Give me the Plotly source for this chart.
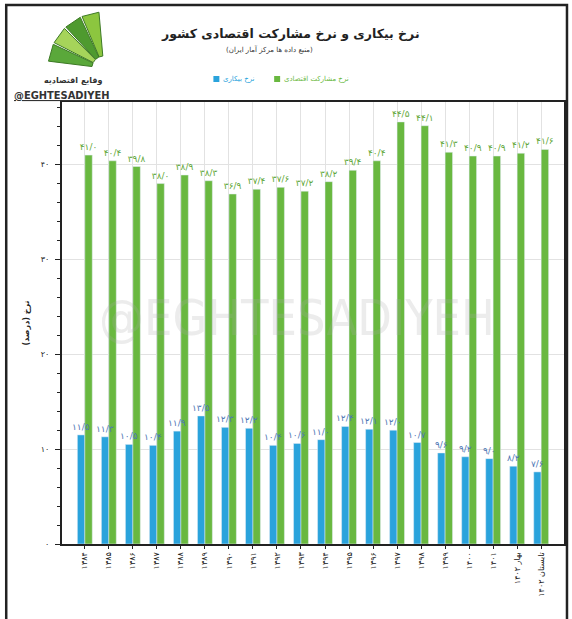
import math
import plotly.graph_objects as go

categories = ["۱۳۸۴", "۱۳۸۵", "۱۳۸۶", "۱۳۸۷", "۱۳۸۸", "۱۳۸۹", "۱۳۹۰", "۱۳۹۱", "۱۳۹۲", "۱۳۹۳",
              "۱۳۹۴", "۱۳۹۵", "۱۳۹۶", "۱۳۹۷", "۱۳۹۸", "۱۳۹۹", "۱۴۰۰", "۱۴۰۱", "بهار ۱۴۰۲", "تابستان ۱۴۰۲"]
unemployment = [11.5, 11.3, 10.5, 10.4, 11.9, 13.5, 12.3, 12.2, 10.4, 10.6,
                11.0, 12.4, 12.1, 12.0, 10.7, 9.6, 9.2, 9.0, 8.2, 7.6]
participation = [41.0, 40.4, 39.8, 38.0, 38.9, 38.3, 36.9, 37.4, 37.6, 37.2,
                 38.2, 39.4, 40.4, 44.5, 44.1, 41.3, 40.9, 40.9, 41.2, 41.6]
y_ticks = [0, 10, 20, 30, 40]
y_tick_labels = ["۰", "۱۰", "۲۰", "۳۰", "۴۰"]

title_text = "نرخ بیکاری و نرخ مشارکت اقتصادی کشور"
subtitle_text = "(منبع داده ها مرکز آمار ایران)"
name_unemp = "نرخ بیکاری"
name_part = "نرخ مشارکت اقتصادی"
y_title = "نرخ (درصد)"

FA = str.maketrans("0123456789.", "۰۱۲۳۴۵۶۷۸۹/")


def fa(v):
    return f"{v:.1f}".translate(FA)


GREEN = "#69b840"
BLUE = "#2aa3dc"
FONT = "DejaVu Sans"
COND = "DejaVu Sans Condensed, Liberation Sans Narrow, Liberation Sans, sans-serif"

W, H = 572, 619
L, R, T, B = 62, 566, 102, 544
X_RANGE = [-0.95, 19.95]
BARGAP = 0.38


def px(x):
    return (x - L) / (R - L)


def py(y):
    return (B - y) / (B - T)


fig = go.Figure()
fig.add_trace(go.Bar(
    x=categories, y=unemployment, name=name_unemp, marker_color=BLUE,
    showlegend=False))
fig.add_trace(go.Bar(
    x=categories, y=participation, name=name_part, marker_color=GREEN,
    text=[fa(v) for v in participation], textposition="outside",
    textfont=dict(size=9, color="#5fa83a", family=FONT), cliponaxis=False,
    constraintext="none", showlegend=False))

shapes = []
ann = []

# blue value labels drawn on top of everything, centred over the blue bars
cat_px = (R - L) / (X_RANGE[1] - X_RANGE[0])
blue_shift = -(1 - BARGAP) * cat_px / 4
for c, v in zip(categories, unemployment):
    ann.append(dict(text=fa(v), x=c, y=v, xref="x", yref="y", showarrow=False,
                    xanchor="center", yanchor="bottom", xshift=blue_shift, yshift=1,
                    font=dict(size=9, color="#4f78b5", family=FONT)))

# outer frame
shapes.append(dict(type="rect", xref="paper", yref="paper", x0=px(6), x1=px(569), y0=py(640), y1=py(5),
                   line=dict(color="#222", width=2.5), fillcolor="rgba(0,0,0,0)", layer="below"))

# logo (approximate fan)
cx, cy = 104, 68
fan_cols = ["#8cc63f", "#4e9a2f", "#a6d45a", "#5aa83a"]
for i, (a0, a1) in enumerate([(95, 113), (115, 133), (135, 153), (155, 173)]):
    r0, r1 = 12, 56
    p1 = (cx + r1 * math.cos(math.radians(a0)), cy - r1 * math.sin(math.radians(a0)))
    p2 = (cx + r1 * math.cos(math.radians(a1)), cy - r1 * math.sin(math.radians(a1)))
    p0 = (cx + r0 * math.cos(math.radians(a0)), cy - r0 * math.sin(math.radians(a0)))
    p3 = (cx + r0 * math.cos(math.radians(a1)), cy - r0 * math.sin(math.radians(a1)))
    path = "M {:.4f},{:.4f} L {:.4f},{:.4f} L {:.4f},{:.4f} L {:.4f},{:.4f} Z".format(
        px(p0[0]), py(p0[1]), px(p1[0]), py(p1[1]), px(p2[0]), py(p2[1]), px(p3[0]), py(p3[1]))
    shapes.append(dict(type="path", xref="paper", yref="paper", path=path,
                       fillcolor=fan_cols[i], line=dict(color="#3d7a25", width=1)))
ann.append(dict(text="<b>وقایع اقتصادیه</b>", x=px(74), y=py(81), xref="paper", yref="paper", showarrow=False,
                xanchor="center", yanchor="middle", font=dict(size=8, color="#333", family=FONT)))
ann.append(dict(text="<b><u>@EGHTESADIYEH</u></b>", x=px(12), y=py(95), xref="paper", yref="paper",
                showarrow=False, xanchor="left", yanchor="middle",
                font=dict(size=11, color="#333", family=COND)))

# title
ann.append(dict(text="<b>" + title_text + "</b>", x=px(291), y=py(33), xref="paper", yref="paper",
                showarrow=False, xanchor="center", yanchor="middle",
                font=dict(size=12.5, color="#222", family=FONT)))
ann.append(dict(text=subtitle_text, x=px(270), y=py(50), xref="paper", yref="paper",
                showarrow=False, xanchor="center", yanchor="middle",
                font=dict(size=7, color="#333", family=FONT)))

# legend (square then label, blue first)
shapes.append(dict(type="rect", xref="paper", yref="paper", x0=px(214), x1=px(220), y0=py(82), y1=py(76),
                   fillcolor=BLUE, line=dict(width=0)))
ann.append(dict(text=name_unemp, x=px(222), y=py(79), xref="paper", yref="paper", xanchor="left",
                yanchor="middle", showarrow=False, font=dict(size=7, color=BLUE, family=FONT)))
shapes.append(dict(type="rect", xref="paper", yref="paper", x0=px(275), x1=px(281), y0=py(82), y1=py(76),
                   fillcolor=GREEN, line=dict(width=0)))
ann.append(dict(text=name_part, x=px(283), y=py(79), xref="paper", yref="paper", xanchor="left",
                yanchor="middle", showarrow=False, font=dict(size=7, color=GREEN, family=FONT)))

# watermark
ann.append(dict(text="@EGHTESADIYEH", x=px(298), y=py(318), xref="paper", yref="paper", showarrow=False,
                xanchor="center", yanchor="middle",
                font=dict(size=50, color="rgba(170,170,170,0.22)", family=COND)))

fig.update_layout(
    width=W, height=H,
    margin=dict(l=L, r=W - R, t=T, b=H - B),
    paper_bgcolor="white", plot_bgcolor="white",
    barmode="group", bargap=BARGAP, bargroupgap=0.0,
    font=dict(family=FONT, color="#222"),
    shapes=shapes, annotations=ann,
    xaxis=dict(
        type="category", range=X_RANGE, tickangle=-90,
        tickfont=dict(size=8, color="#222", family=FONT),
        showgrid=True, gridcolor="#e2e2e2", gridwidth=1,
        showline=True, linecolor="#222", linewidth=2, mirror=True,
        ticks="outside", ticklen=3, tickcolor="#222",
    ),
    yaxis=dict(
        range=[0, 46.6], tickvals=y_ticks, ticktext=y_tick_labels,
        tickfont=dict(size=8, color="#222", family=FONT),
        showgrid=True, gridcolor="#e2e2e2", gridwidth=1,
        showline=True, linecolor="#222", linewidth=2, mirror=True,
        ticks="outside", ticklen=5, tickcolor="#222", ticklabelstandoff=4,
        minor=dict(dtick=2, ticks="outside", ticklen=3, tickcolor="#222", showgrid=False),
        zeroline=False,
        title=dict(text="<b>" + y_title + "</b>", font=dict(size=8, color="#222", family=FONT), standoff=10),
    ),
)

fig.write_html("out.html", config={"displayModeBar": False},
               post_script="document.body.style.margin='0';document.body.style.padding='0';")
